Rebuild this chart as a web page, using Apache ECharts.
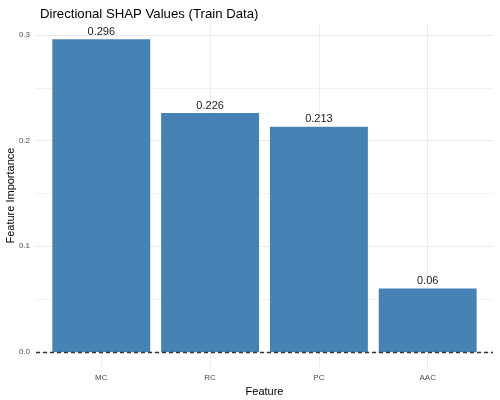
<!DOCTYPE html>
<html>
<head>
<meta charset="utf-8">
<script src="https://cdn.jsdelivr.net/npm/echarts@6/dist/echarts.min.js"></script>
<style>
    html, body { margin: 0; padding: 0; background: #fff; }
    #chart { width: 500px; height: 400px; }
</style>
</head>
<body>
<div id="chart"></div>
<script>
var features = ['MC', 'RC', 'PC', 'AAC'];
var importance = [0.296, 0.226, 0.213, 0.06];
var yTicks = [0, 0.1, 0.2, 0.3];

var fontFamily = 'Liberation Sans, Arial, sans-serif';
var yPad = (Math.max.apply(null, importance) - 0) * 0.05;
var yMin = 0 - yPad;
var yMax = Math.max.apply(null, importance) + yPad;

var chart = echarts.init(document.getElementById('chart'));

var option = {
    backgroundColor: '#ffffff',
    animation: false,
    title: {
        text: 'Directional SHAP Values (Train Data)',
        left: 35,
        top: 3,
        textStyle: {
            color: '#000000',
            fontSize: 13.2,
            fontWeight: 'normal',
            fontFamily: fontFamily
        }
    },
    grid: [
        // full panel: grid lines, y labels, zero line
        { left: 36, right: 7, top: 23.5, bottom: 32.4, outerBoundsMode: 'none' },
        // bar area, inset by the discrete axis padding
        { left: 46.9, right: 17.9, top: 23.5, bottom: 32.4, outerBoundsMode: 'none' }
    ],
    xAxis: [
        {
            type: 'value',
            gridIndex: 0,
            min: 0,
            max: 1,
            show: false
        },
        {
            type: 'category',
            gridIndex: 1,
            data: features,
            boundaryGap: true,
            name: 'Feature',
            nameLocation: 'middle',
            nameGap: 14,
            nameTextStyle: {
                color: '#000000',
                fontSize: 11,
                fontFamily: fontFamily
            },
            axisLine: { show: false, onZero: false },
            axisTick: {
                show: true,
                alignWithLabel: true,
                inside: true,
                length: 344.1,
                lineStyle: { color: '#ebebeb', width: 1 }
            },
            axisLabel: {
                color: '#4d4d4d',
                fontSize: 8,
                margin: 6,
                fontFamily: fontFamily
            },
            splitLine: { show: false }
        }
    ],
    yAxis: [
        {
            type: 'value',
            gridIndex: 0,
            min: yMin,
            max: yMax,
            splitNumber: 3,
            minInterval: 0.1,
            maxInterval: 0.1,
            name: 'Feature Importance',
            nameLocation: 'middle',
            nameGap: 20,
            nameMoveOverlap: false,
            nameTextStyle: {
                color: '#000000',
                fontSize: 11,
                fontFamily: fontFamily
            },
            axisLine: { show: false },
            axisTick: { show: false },
            axisLabel: {
                color: '#4d4d4d',
                fontSize: 8,
                margin: 6,
                fontFamily: fontFamily,
                showMinLabel: false,
                showMaxLabel: false,
                formatter: function (v) {
                    return yTicks.indexOf(Math.round(v * 10) / 10) >= 0 ? v.toFixed(1) : '';
                }
            },
            splitLine: {
                show: true,
                showMinLine: false,
                showMaxLine: false,
                lineStyle: { color: '#ebebeb', width: 1 }
            },
            minorTick: { show: false, splitNumber: 2 },
            minorSplitLine: {
                show: true,
                lineStyle: { color: '#f2f2f2', width: 1 }
            }
        },
        {
            type: 'value',
            gridIndex: 1,
            min: yMin,
            max: yMax,
            show: false
        }
    ],
    series: [
        {
            name: 'zero',
            type: 'line',
            xAxisIndex: 0,
            yAxisIndex: 0,
            data: [],
            silent: true,
            markLine: {
                silent: true,
                symbol: 'none',
                label: { show: false },
                lineStyle: { color: '#333333', width: 1.3, type: [4, 3] },
                data: [{ yAxis: 0 }]
            },
            z: 5
        },
        {
            name: 'importance',
            type: 'bar',
            xAxisIndex: 1,
            yAxisIndex: 1,
            data: importance,
            barWidth: '90%',
            itemStyle: { color: '#4682b4' },
            label: {
                show: true,
                position: 'top',
                distance: 2,
                color: '#1a1a1a',
                fontSize: 11,
                fontFamily: fontFamily,
                formatter: function (p) {
                    return String(p.value);
                }
            },
            z: 2
        }
    ]
};

chart.setOption(option);
</script>
</body>
</html>
